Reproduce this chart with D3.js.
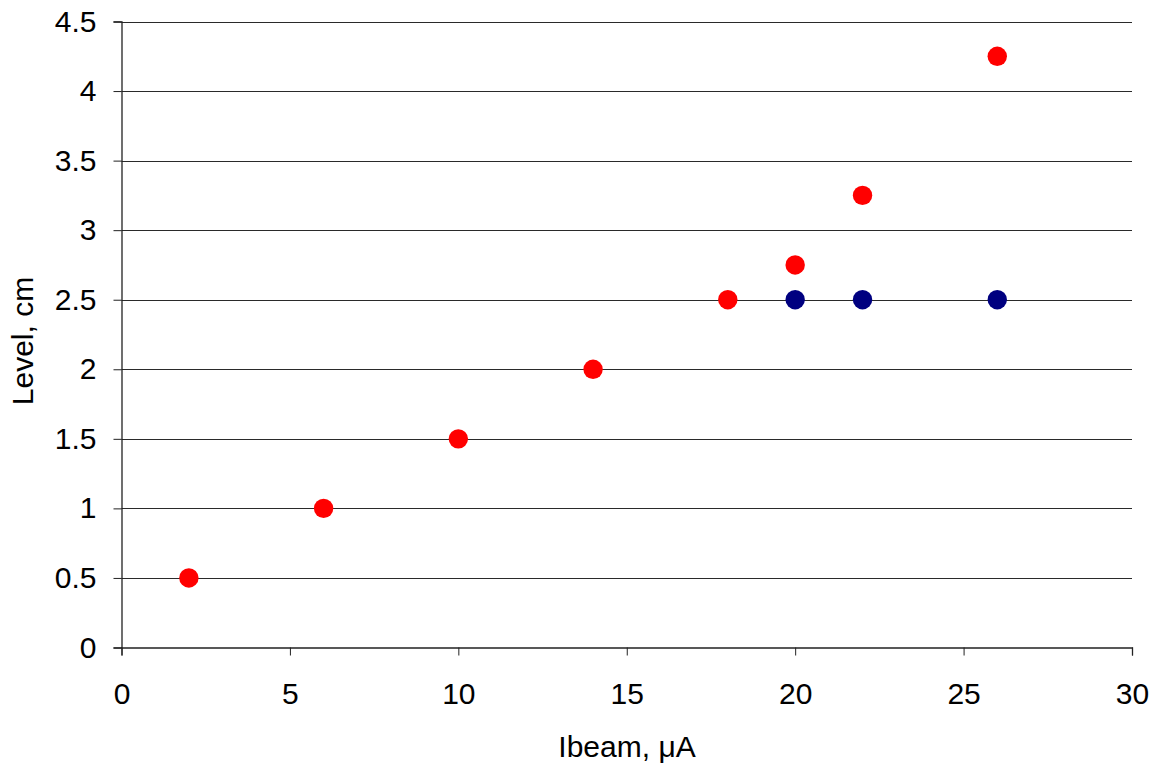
<!DOCTYPE html>
<html>
<head>
<meta charset="utf-8">
<script src="https://d3js.org/d3.v7.min.js"></script>
<style>
  html, body { margin: 0; padding: 0; background: #fff; }
  svg { display: block; font-family: "Liberation Sans", Arial, sans-serif; }
</style>
</head>
<body>
<svg id="chart" width="1159" height="767"></svg>
<script>
// Beam current (µA) against level (cm), two series
const redX = [2, 6, 10, 14, 18, 20, 22, 26];
const redY = [0.5, 1, 1.5, 2, 2.5, 2.75, 3.25, 4.25];
const blueX = [20, 22, 26];
const blueY = [2.5, 2.5, 2.5];
const xTicks = [0, 5, 10, 15, 20, 25, 30];
const yTicks = [0, 0.5, 1, 1.5, 2, 2.5, 3, 3.5, 4, 4.5];

const svg = d3.select("#chart");
const plot = { left: 121.5, right: 1132, top: 21.5, bottom: 647.5 };
const fontSize = "30px";

const x = d3.scaleLinear().domain([0, 30]).range([plot.left, plot.right]);
const y = d3.scaleLinear().domain([0, 4.5]).range([plot.bottom, plot.top]);

// horizontal gridlines
svg.append("g").selectAll("line").data(yTicks.filter(d => d > 0)).join("line")
  .attr("x1", plot.left).attr("x2", plot.right)
  .attr("y1", d => Math.round(y(d)) + 0.5).attr("y2", d => Math.round(y(d)) + 0.5)
  .attr("stroke", "#2a2a2a").attr("stroke-width", 1);

// y axis
const yAxis = svg.append("g").attr("transform", `translate(${plot.left},0)`)
  .call(d3.axisLeft(y).tickValues(yTicks).tickSize(8).tickPadding(17)
    .tickFormat(d => String(d)));
// x axis
const xAxis = svg.append("g").attr("transform", `translate(0,${plot.bottom})`)
  .call(d3.axisBottom(x).tickValues(xTicks).tickSize(8).tickPadding(27)
    .tickFormat(d => String(d)));

[yAxis, xAxis].forEach(g => {
  g.select(".domain").attr("stroke", "#222").attr("stroke-width", 1.3);
  g.selectAll(".tick line").attr("stroke", "#222");
  g.selectAll(".tick text").attr("fill", "#000")
    .style("font-size", fontSize).style("font-family", "'Liberation Sans', Arial, sans-serif");
});
xAxis.selectAll(".tick text").attr("dy", "0.71em");

// axis titles
svg.append("text")
  .attr("transform", `translate(33,341) rotate(-90)`)
  .attr("text-anchor", "middle")
  .style("font-size", fontSize).attr("fill", "#000")
  .text("Level, cm");
svg.append("text")
  .attr("x", 627).attr("y", 757)
  .attr("text-anchor", "middle")
  .style("font-size", fontSize).attr("fill", "#000")
  .text("Ibeam, μA");

// markers
const marks = svg.append("g");
marks.selectAll("circle.blue").data(blueX.map((v, i) => [v, blueY[i]])).join("circle")
  .attr("class", "blue")
  .attr("cx", d => x(d[0])).attr("cy", d => y(d[1])).attr("r", 9.7)
  .attr("fill", "#000080");
marks.selectAll("circle.red").data(redX.map((v, i) => [v, redY[i]])).join("circle")
  .attr("class", "red")
  .attr("cx", d => x(d[0])).attr("cy", d => y(d[1])).attr("r", 9.7)
  .attr("fill", "#ff0000");
</script>
</body>
</html>
